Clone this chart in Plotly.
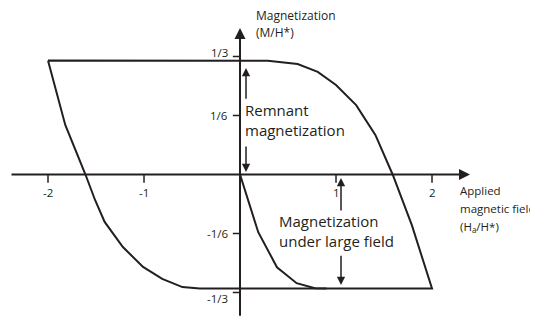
import plotly.graph_objects as go

INK = "#231f20"
FONT = "Open Sans"

# saturation level of the loop (M/H*)
m_sat = 0.322

# descending branch (upper right)
right_h = [-2.0, 0.0, 0.29, 0.60, 0.81, 1.00, 1.21, 1.41, 1.59, 1.79, 2.0]
right_m = [m_sat, m_sat, 0.321, 0.312, 0.290, 0.253, 0.196, 0.112, 0.0, -0.143, -m_sat]

# ascending branch (lower left)
left_h = [2.0, -0.42, -0.60, -0.81, -1.01, -1.22, -1.41, -1.51, -1.61, -1.82, -2.0]
left_m = [-m_sat, -m_sat, -0.318, -0.295, -0.261, -0.205, -0.134, -0.072, 0.0, 0.14, m_sat]

# initial (virgin) curve from the origin
virgin_h = [0.0, 0.19, 0.385, 0.59, 0.78, 0.90]
virgin_m = [0.0, -0.163, -0.262, -0.307, -0.321, -m_sat]

x_ticks = [-2, -1, 1, 2]
x_tick_text = ["-2", "-1", "1", "2"]
y_ticks = [1/3, 1/6, -1/6, -1/3]
y_tick_text = ["1/3", "1/6", "-1/6", "-1/3"]
y_label_shift = [4, 0, 0, -6]

fig = go.Figure()

fig.add_trace(go.Scatter(x=right_h + left_h[1:], y=right_m + left_m[1:], mode="lines",
                         line=dict(color=INK, width=2), hoverinfo="skip"))
fig.add_trace(go.Scatter(x=virgin_h, y=virgin_m, mode="lines",
                         line=dict(color=INK, width=2), hoverinfo="skip"))

shapes = []
# tick marks
for t in x_ticks:
    shapes.append(dict(type="line", xref="x", yref="y", x0=t, x1=t, y0=0, y1=-0.023,
                       line=dict(color=INK, width=1.5)))
for t in y_ticks:
    shapes.append(dict(type="line", xref="x", yref="y", x0=0, x1=-0.075, y0=t, y1=t,
                       line=dict(color=INK, width=1.5)))

annotations = []


def arrow(x0, y0, x1, y1, w=1.5):
    annotations.append(dict(x=x1, y=y1, ax=x0, ay=y0, xref="x", yref="y", axref="x", ayref="y",
                            text="", showarrow=True, arrowhead=2, arrowsize=1.1, arrowwidth=w,
                            arrowcolor=INK, standoff=0, startstandoff=0))


# axes with arrowheads
arrow(-2.396, 0, 2.396, 0, 2)
arrow(0, -0.403, 0, 0.414, 2)

# remnant magnetization arrows
arrow(0.0625, 0.21, 0.0625, 0.301)
arrow(0.0625, 0.083, 0.0625, 0.007)
# magnetization under large field arrows
arrow(1.052, -0.106, 1.052, -0.010)
arrow(1.052, -0.225, 1.052, -0.312)


def label(x, y, text, size, xanchor="left", yshift=0):
    annotations.append(dict(x=x, y=y, xref="x", yref="y", text=text, showarrow=False,
                            xanchor=xanchor, yanchor="middle", yshift=yshift,
                            font=dict(family=FONT, size=size, color=INK)))


for t, s in zip(x_ticks, x_tick_text):
    label(t, -0.052, s, 11.5, xanchor="center")
for t, s, dy in zip(y_ticks, y_tick_text, y_label_shift):
    label(-0.10, t, s, 11.5, xanchor="right", yshift=dy)

label(0.031, 0.183, "Remnant", 15)
label(0.031, 0.127, "magnetization", 15)
label(0.385, -0.131, "Magnetization", 15)
label(0.385, -0.187, "under large field", 15)

label(0.146, 0.450, "Magnetization", 12)
label(0.146, 0.402, "(M/H*)", 12)

label(2.27, -0.044, "Applied", 11.5)
label(2.27, -0.095, "magnetic field", 11.5)
label(2.27, -0.148, "(H<sub>a</sub>/H*)", 11.5)

# the page body has an 8px margin, so the figure is sized to the visible area
fig.update_layout(
    width=530, height=312, autosize=False,
    margin=dict(l=0, r=0, t=0, b=0),
    plot_bgcolor="white", paper_bgcolor="white",
    showlegend=False,
    xaxis=dict(range=[-2.4167, 3.104], visible=False, fixedrange=True),
    yaxis=dict(range=[-0.411, 0.4703], visible=False, fixedrange=True),
    shapes=shapes, annotations=annotations,
)

fig.write_html("out.html")
